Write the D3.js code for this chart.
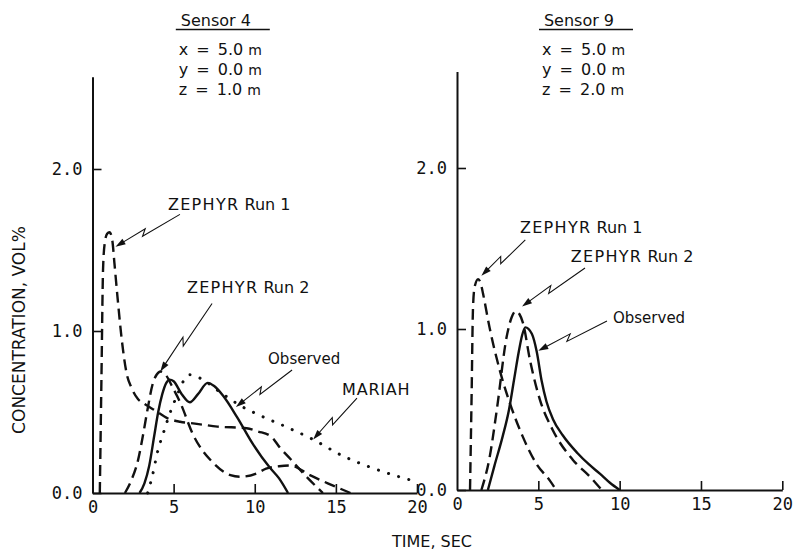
<!DOCTYPE html>
<html>
<head>
<meta charset="utf-8">
<script src="https://cdn.jsdelivr.net/npm/d3@7"></script>
<style>
  body { margin: 0; background: #fff; }
  svg { display: block; }
  text { fill: #111; }
</style>
</head>
<body>
<svg id="chart" width="794" height="553"></svg>
<script>
// ---- Sensor 4 (x = 5.0 m, y = 0.0 m, z = 1.0 m): [time s, concentration vol%] ----
const s4Zephyr1 = [[0.45,0],[0.55,0.7],[0.65,1.38],[0.75,1.54],[0.9,1.6],[1.05,1.61],[1.22,1.56],[1.35,1.42],
  [1.55,1.2],[1.8,0.95],[2.1,0.74],[2.4,0.65],[2.8,0.58],[3.2,0.55],[3.85,0.51],[4.65,0.46],[5.4,0.44],
  [6.2,0.43],[7.7,0.41],[9.5,0.4],[10.2,0.38],[11.0,0.35],[11.55,0.28],[12.2,0.21],[13.0,0.12],[14.2,0]];
const s4Zephyr2 = [[2.0,0],[2.4,0.08],[2.8,0.2],[3.1,0.35],[3.4,0.52],[3.7,0.67],[3.95,0.73],[4.2,0.75],
  [4.5,0.73],[5.0,0.64],[5.4,0.56],[6.2,0.36],[7.4,0.19],[8.5,0.11],[9.1,0.1],[10.1,0.12],[10.7,0.15],
  [11.5,0.165],[12.2,0.17],[13.4,0.11],[14.5,0.06],[15.9,0]];
const s4Observed = [[2.9,0],[3.2,0.06],[3.5,0.17],[3.8,0.35],[4.05,0.5],[4.3,0.61],[4.55,0.68],[4.75,0.7],
  [5.0,0.69],[5.5,0.61],[6.0,0.56],[6.5,0.61],[7.1,0.68],[7.5,0.66],[8.05,0.6],[8.9,0.47],[9.9,0.3],
  [10.9,0.16],[11.5,0.09],[12.05,0]];
const s4Mariah = [[3.4,0],[3.7,0.11],[4.0,0.25],[4.4,0.38],[4.8,0.5],[5.2,0.6],[5.6,0.69],[6.0,0.73],
  [6.6,0.71],[7.9,0.62],[9.1,0.54],[10.3,0.48],[11.9,0.41],[13.6,0.33],[15.4,0.23],[17.1,0.16],
  [18.9,0.1],[19.6,0.08]];

// ---- Sensor 9 (x = 5.0 m, y = 0.0 m, z = 2.0 m) ----
const s9Zephyr1 = [[0.8,0],[0.9,0.6],[0.98,1.12],[1.08,1.26],[1.3,1.31],[1.47,1.28],[1.6,1.22],[2.0,1.01],
  [2.64,0.74],[3.25,0.54],[4.05,0.33],[4.9,0.16],[5.7,0.06],[6.1,0]];
const s9Zephyr2 = [[1.5,0],[2.0,0.2],[2.45,0.5],[3.05,0.95],[3.35,1.07],[3.6,1.11],[3.85,1.09],[4.05,1.04],
  [4.5,0.8],[5.1,0.56],[5.9,0.37],[7.1,0.19],[8.2,0.08],[8.9,0]];
const s9Observed = [[1.9,0],[2.3,0.15],[2.8,0.33],[3.2,0.5],[3.5,0.68],[3.8,0.86],[4.0,0.96],[4.2,1.01],
  [4.6,0.97],[4.9,0.86],[5.2,0.68],[5.5,0.55],[5.9,0.44],[6.5,0.34],[7.4,0.23],[8.1,0.16],[8.8,0.1],
  [9.4,0.045],[10.0,0]];

// ---- axis ticks and text ----
const xTicks = [0, 5, 10, 15, 20];
const yTicks = [0, 1, 2];
const yTickLabels = ["0.0", "1.0", "2.0"];
const sensorNames = ["Sensor 4", "Sensor 9"];
const sensorCoords = [
  [["x = 5.0", "m"], ["y = 0.0", "m"], ["z = 1.0", "m"]],
  [["x = 5.0", "m"], ["y = 0.0", "m"], ["z = 2.0", "m"]]
];
// annotation: text, text anchor [t, v], leader start [t, v], leader tip [t, v]
const s4Notes = [
  ["ZEPHYR Run 1", [4.65, 1.75], [5.39, 1.72], [1.42, 1.52]],
  ["ZEPHYR Run 2", [5.82, 1.235], [7.37, 1.17], [4.18, 0.75]],
  ["Observed", [10.82, 0.796], [12.3, 0.759], [8.84, 0.531]],
  ["MARIAH", [15.38, 0.605], [16.3, 0.586], [13.6, 0.33]]
];
const s9Notes = [
  ["ZEPHYR Run 1", [3.87, 1.596], [4.2, 1.553], [1.5, 1.33]],
  ["ZEPHYR Run 2", [7.0, 1.416], [7.87, 1.379], [4.0, 1.14]],
  ["Observed", [9.59, 1.037], [9.22, 1.05], [5.0, 0.865]]
];

const svg = d3.select("#chart");
svg.append("rect").attr("width", 794).attr("height", 553).attr("fill", "#fff");

const MONO = "'DejaVu Sans Mono', monospace";
const SANS = "'DejaVu Sans', sans-serif";
const INK = "#111";

const panels = [
  { x: d3.scaleLinear().domain([0, 20]).range([92.5, 417]),
    y: d3.scaleLinear().domain([0, 2]).range([493, 169]), top: 2.57,
    series: [[s4Zephyr1, "dash"], [s4Zephyr2, "dash"], [s4Observed, "solid"], [s4Mariah, "dot"]],
    notes: s4Notes, name: sensorNames[0], coords: sensorCoords[0], head: 7.6 },
  { x: d3.scaleLinear().domain([0, 20]).range([457, 782.3]),
    y: d3.scaleLinear().domain([0, 2]).range([490, 168]), top: 2.6,
    series: [[s9Zephyr1, "dash"], [s9Zephyr2, "dash"], [s9Observed, "solid"]],
    notes: s9Notes, name: sensorNames[1], coords: sensorCoords[1], head: 7.5 }
];

function bolt(S, E) {
  // straight leader broken by a small lightning jog
  const dx = E[0] - S[0], dy = E[1] - S[1], L = Math.hypot(dx, dy);
  const ux = dx / L, uy = dy / L, nx = -uy, ny = ux, h = 2.8;
  const A = [S[0] + dx * 0.6 - nx * h, S[1] + dy * 0.6 - ny * h];
  const B = [S[0] + dx * 0.52 + nx * h, S[1] + dy * 0.52 + ny * h];
  const bx = E[0] - B[0], by = E[1] - B[1], bl = Math.hypot(bx, by);
  const vx = bx / bl, vy = by / bl;
  const stop = [E[0] - vx * 7, E[1] - vy * 7];
  const head = [E, [E[0] - vx * 10 - vy * 3.2, E[1] - vy * 10 + vx * 3.2],
                   [E[0] - vx * 10 + vy * 3.2, E[1] - vy * 10 - vx * 3.2]];
  return { line: [S, A, B, stop], head };
}

panels.forEach(p => {
  const g = svg.append("g");
  const yAxisScale = p.y.copy().domain([0, p.top]).range([p.y(0), p.y(p.top)]);

  // x axis
  const xa = g.append("g").attr("transform", `translate(0,${p.y(0)})`)
    .call(d3.axisBottom(p.x).tickValues(xTicks).tickFormat(d3.format("d"))
      .tickSizeInner(-9).tickSizeOuter(0).tickPadding(8));
  // y axis
  const ya = g.append("g").attr("transform", `translate(${p.x(0)},0)`)
    .call(d3.axisLeft(yAxisScale).tickValues(yTicks).tickFormat((d, i) => yTickLabels[i])
      .tickSizeInner(-9).tickSizeOuter(0).tickPadding(10));
  [xa, ya].forEach(a => {
    a.select(".domain").attr("stroke", INK).attr("stroke-width", 2);
    a.selectAll(".tick line").attr("stroke", INK).attr("stroke-width", 1.6);
    a.selectAll(".tick text").attr("font-family", MONO).attr("font-size", 17).attr("fill", INK);
  });
  xa.selectAll(".tick").filter(d => d === 0).select("line").remove();

  // curves
  const line = d3.line().x(d => p.x(d[0])).y(d => p.y(d[1])).curve(d3.curveMonotoneX);
  p.series.forEach(([data, style]) => {
    const path = g.append("path").attr("d", line(data)).attr("fill", "none")
      .attr("stroke", INK).attr("stroke-width", style === "dot" ? 3 : 2.4);
    if (style === "dash") path.attr("stroke-dasharray", "11,6");
    if (style === "dot") path.attr("stroke-dasharray", "0.1,10.5").attr("stroke-linecap", "round");
  });

  // annotations with lightning leaders
  p.notes.forEach(([label, at, from, to]) => {
    const S = [p.x(from[0]), p.y(from[1])], E = [p.x(to[0]), p.y(to[1])];
    const b = bolt(S, E);
    g.append("path").attr("d", d3.line()(b.line)).attr("fill", "none")
      .attr("stroke", INK).attr("stroke-width", 1.1);
    g.append("path").attr("d", d3.line()(b.head) + "Z").attr("fill", INK);
    const t = g.append("text").attr("x", p.x(at[0])).attr("y", p.y(at[1]))
      .attr("font-family", SANS).attr("font-size", label === "Observed" ? 15 : 16);
    if (label.startsWith("ZEPHYR")) {
      t.append("tspan").attr("letter-spacing", 1.3).text("ZEPHYR");
      t.append("tspan").text(" " + label.slice(7));
    } else if (label === "MARIAH") {
      t.attr("letter-spacing", 0.8).text(label);
    } else {
      t.text(label);
    }
  });

  // sensor heading
  const hx = p.x(p.head);
  g.append("text").attr("x", hx).attr("y", 26).attr("text-anchor", "middle")
    .attr("font-family", SANS).attr("font-size", 16).text(p.name);
  g.append("line").attr("x1", hx - 40).attr("x2", hx + 54).attr("y1", 29.5).attr("y2", 29.5)
    .attr("stroke", INK).attr("stroke-width", 1.5);
  p.coords.forEach((c, i) => {
    const t = g.append("text").attr("x", hx - 37).attr("y", 55 + i * 20)
      .attr("font-family", SANS).attr("font-size", 16).attr("word-spacing", 3);
    t.append("tspan").text(c[0]);
    t.append("tspan").attr("font-size", 14).attr("dx", 5).text(c[1]);
  });
});

// axis titles
svg.append("text").attr("transform", "translate(19,330) rotate(-90)")
  .attr("text-anchor", "middle").attr("dominant-baseline", "central")
  .attr("font-family", SANS).attr("font-size", 17).text("CONCENTRATION, VOL%");
svg.append("text").attr("x", 432).attr("y", 547).attr("text-anchor", "middle")
  .attr("font-family", SANS).attr("font-size", 16).text("TIME, SEC");
</script>
</body>
</html>
